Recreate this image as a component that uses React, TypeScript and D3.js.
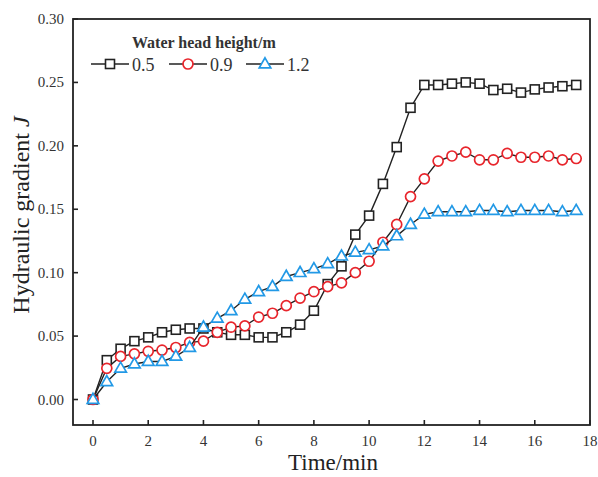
import React from "react";
import * as d3 from "d3";

// time in minutes, one reading every 30 s
const times = d3.range(0, 18, 0.5);

const head05 = [0, 0.031, 0.040, 0.046, 0.049, 0.053, 0.055, 0.056, 0.056, 0.053, 0.051, 0.051, 0.049, 0.049, 0.053, 0.059, 0.070, 0.091, 0.105, 0.130, 0.145, 0.170, 0.199, 0.230, 0.248, 0.248, 0.249, 0.250, 0.249, 0.244, 0.245, 0.242, 0.2445, 0.246, 0.247, 0.248];
const head09 = [0, 0.0246, 0.034, 0.036, 0.038, 0.039, 0.041, 0.045, 0.046, 0.053, 0.057, 0.058, 0.065, 0.068, 0.074, 0.080, 0.085, 0.089, 0.092, 0.100, 0.109, 0.124, 0.138, 0.160, 0.174, 0.188, 0.192, 0.195, 0.189, 0.189, 0.194, 0.191, 0.191, 0.192, 0.189, 0.190];
const head12 = [0, 0.014, 0.0246, 0.028, 0.030, 0.030, 0.034, 0.041, 0.057, 0.064, 0.070, 0.079, 0.085, 0.089, 0.097, 0.100, 0.103, 0.107, 0.113, 0.116, 0.118, 0.121, 0.129, 0.138, 0.146, 0.148, 0.148, 0.148, 0.149, 0.149, 0.148, 0.149, 0.149, 0.149, 0.148, 0.149];

const seriesNames = ["0.5", "0.9", "1.2"];
const seriesColors = ["#222222", "#e8252c", "#2299e6"];
const seriesShapes = ["square", "circle", "triangle"];

const xTicks = [0, 2, 4, 6, 8, 10, 12, 14, 16, 18];
const yTicks = [0, 0.05, 0.1, 0.15, 0.2, 0.25, 0.3];

const FONT = "'Liberation Serif', 'Times New Roman', serif";

const Marker = ({ shape, x, y, color }: { shape: string; x: number; y: number; color: string }) => {
  if (shape === "square")
    return <rect x={x - 4.5} y={y - 4.5} width={9} height={9} fill="#fff" stroke={color} strokeWidth={1.6} />;
  if (shape === "circle")
    return <circle cx={x} cy={y} r={5} fill="#fff" stroke={color} strokeWidth={1.7} />;
  const tri = d3.symbol().type(d3.symbolTriangle).size(58)();
  return <path d={tri || ""} transform={`translate(${x},${y + 0.5})`} fill="#fff" stroke={color} strokeWidth={1.7} />;
};

const App = () => {
  const left = 73, right = 590, top = 19, bottom = 425;

  const x = d3.scaleLinear().domain([0, 18]).range([93, 590]);
  const y = d3.scaleLinear().domain([0, 0.3]).range([399.5, 19]);

  const all = [head05, head09, head12];
  const line = d3
    .line<number>()
    .x((d, i) => x(times[i]))
    .y((d) => y(d));

  return (
    <svg width={598} height={477} style={{ position: "absolute", left: 0, top: 0, background: "#fff" }} fontFamily={FONT}>
      <rect x={0} y={0} width={598} height={477} fill="#fff" />

      {/* ticks, inward */}
      {xTicks.map((t) => (
        <g key={"x" + t}>
          <line x1={x(t)} x2={x(t)} y1={bottom} y2={bottom - 5} stroke="#222" strokeWidth={1.6} />
          <text x={x(t)} y={446} textAnchor="middle" fontSize={15} fill="#333">{t}</text>
        </g>
      ))}
      {yTicks.map((t) => (
        <g key={"y" + t}>
          <line x1={left} x2={left + 5} y1={y(t)} y2={y(t)} stroke="#222" strokeWidth={1.6} />
          <text x={64} y={y(t) + 5} textAnchor="end" fontSize={15} fill="#333">{t.toFixed(2)}</text>
        </g>
      ))}

      {all.map((vals, si) => (
        <g key={si}>
          <path d={line(vals) || ""} fill="none" stroke="#222" strokeWidth={1.4} />
          {vals.map((v, i) => (
            <Marker key={i} shape={seriesShapes[si]} x={x(times[i])} y={y(v)} color={seriesColors[si]} />
          ))}
        </g>
      ))}

      <rect x={left} y={top} width={right - left} height={bottom - top} fill="none" stroke="#222" strokeWidth={1.8} />

      {/* legend */}
      <text x={132} y={48} fontSize={16} fontWeight="bold" fill="#333">Water head height/m</text>
      {seriesNames.map((n, i) => {
        const x0 = [91, 169, 246][i];
        return (
          <g key={n}>
            <line x1={x0} x2={x0 + 38} y1={64} y2={64} stroke="#222" strokeWidth={1.4} />
            <Marker shape={seriesShapes[i]} x={x0 + 19} y={64} color={seriesColors[i]} />
            <text x={x0 + 41} y={71} fontSize={18} fill="#333">{n}</text>
          </g>
        );
      })}

      {/* axis titles */}
      <text x={333} y={470} textAnchor="middle" fontSize={23} fill="#222">Time/min</text>
      <text transform="translate(29,215) rotate(-90)" textAnchor="middle" fontSize={24} fill="#222">
        Hydraulic gradient <tspan fontStyle="italic">J</tspan>
      </text>
    </svg>
  );
};

export default App;
